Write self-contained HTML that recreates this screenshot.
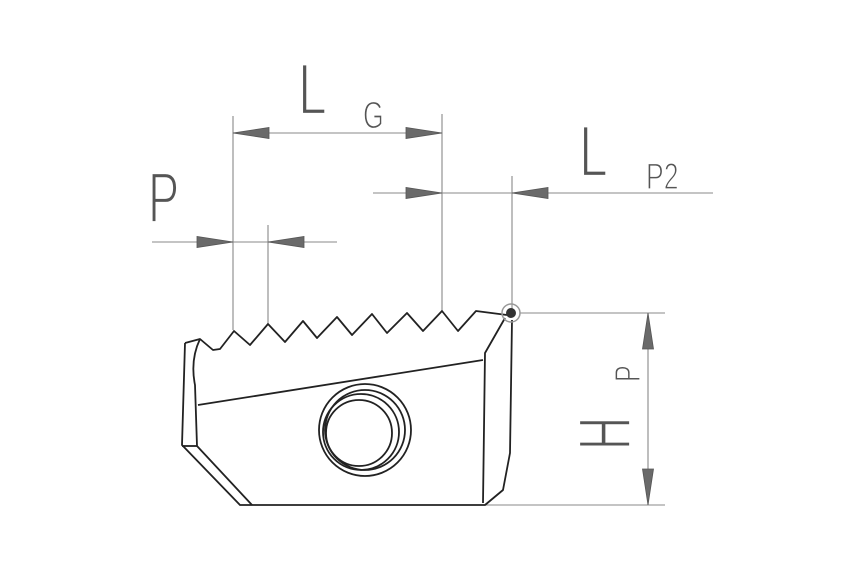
<!DOCTYPE html>
<html><head><meta charset="utf-8"><style>
html,body{margin:0;padding:0;background:#fff;}
svg{display:block;}
text{font-family:"Liberation Sans",sans-serif;fill:#555;stroke:#fff;stroke-width:2.2;}
text.s{stroke-width:1.2;}
</style></head><body>
<svg width="850" height="567" viewBox="0 0 850 567" xmlns="http://www.w3.org/2000/svg">
<defs>
<path id="ar" d="M0,0 L-36,-5.5 L-36,5.5 Z" fill="#6a6a6a" stroke="#555" stroke-width="0.8"/>
</defs>
<g stroke="#888" stroke-width="1.1" fill="none">
<line x1="233" y1="116" x2="233" y2="330"/>
<line x1="442" y1="114" x2="442" y2="311"/>
<line x1="233" y1="133" x2="442" y2="133"/>
<line x1="152" y1="242" x2="337" y2="242"/>
<line x1="268" y1="225" x2="268" y2="324"/>
<line x1="373" y1="193" x2="713" y2="193"/>
<line x1="512" y1="176" x2="512" y2="313"/>
<line x1="648" y1="313" x2="648" y2="505"/>
<line x1="520" y1="313" x2="665" y2="313"/>
<line x1="485" y1="505" x2="665" y2="505"/>
</g>
<use href="#ar" transform="translate(233,133) rotate(180)"/>
<use href="#ar" transform="translate(442,133)"/>
<use href="#ar" transform="translate(233,242)"/>
<use href="#ar" transform="translate(268,242) rotate(180)"/>
<use href="#ar" transform="translate(442,193)"/>
<use href="#ar" transform="translate(512,193) rotate(180)"/>
<use href="#ar" transform="translate(648,313) rotate(-90)"/>
<use href="#ar" transform="translate(648,505) rotate(90)"/>
<text x="0" y="0" font-size="72" transform="translate(298,114) scale(0.72,1)">L</text>
<text class="s" x="0" y="0" font-size="38" transform="translate(363,128) scale(0.7,1)">G</text>
<text x="0" y="0" font-size="71" transform="translate(148,222) scale(0.66,1)">P</text>
<text x="0" y="0" font-size="72" transform="translate(579,176) scale(0.72,1)">L</text>
<text class="s" x="0" y="0" font-size="37" transform="translate(646,189) scale(0.72,1)">P2</text>
<text x="0" y="0" font-size="74" transform="translate(630,450) rotate(-90) scale(0.62,1)">H</text>
<text class="s" x="0" y="0" font-size="36" transform="translate(640,382) rotate(-90) scale(0.7,1)">P</text>
<g stroke="#222" stroke-width="1.8" fill="none" stroke-linejoin="round">
<path d="M185,343 L200,339 L213,350 L220,349 L234,331 L250,345 L268,324 L285,342 L303,321 L317,338 L337,317 L352,335 L372,314 L387,333 L407,313 L423,331 L442,311 L458,331 L476,311 L507,315"/>
<path d="M185,343 L182,445 L240,505 L485,505 L503,490 L510,453 L512,320"/>
<path d="M200,339 Q190,360 195,385 L197,446 L252,505"/>
<path d="M182,446 L197,446"/>
<path d="M505,318 L485,353 L483,503"/>
<path d="M198,405 L483,360"/>
<circle cx="365" cy="430" r="46"/>
<circle cx="365" cy="430" r="40"/>
<circle cx="361" cy="432" r="38"/>
<circle cx="359" cy="433" r="33"/>
</g>
<circle cx="511" cy="313" r="9" fill="none" stroke="#999" stroke-width="1.5"/>
<circle cx="511" cy="313" r="5" fill="#333"/>
</svg>
</body></html>
